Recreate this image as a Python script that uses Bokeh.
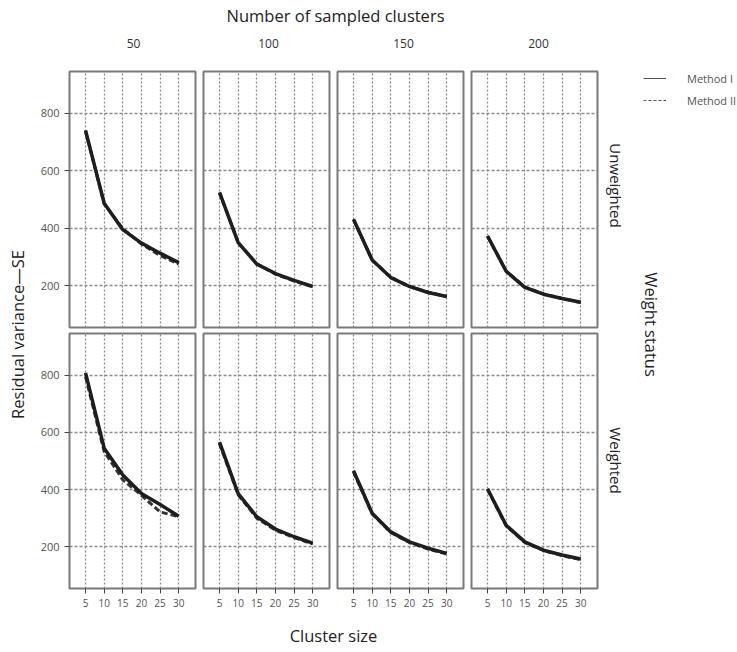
import math
from bokeh.plotting import figure
from bokeh.layouts import row, column
from bokeh.models import (Range1d, FixedTicker, Grid, Label, Legend, LegendItem,
                          ColumnDataSource)
from bokeh.embed import file_html
from bokeh.resources import INLINE

# ---------------- data ----------------
cluster_size = [5, 10, 15, 20, 25, 30]
sampled_clusters = ["50", "100", "150", "200"]
weight_status = ["Unweighted", "Weighted"]
methods = ["Method I", "Method II"]
x_ticks = [5, 10, 15, 20, 25, 30]
y_ticks = [200, 400, 600, 800]

# rows: 50, 100, 150, 200 sampled clusters
unweighted_method_i = [
    [741, 487, 395, 348, 313, 280],
    [525, 350, 275, 242, 218, 197],
    [431, 289, 228, 197, 176, 162],
    [373, 250, 194, 170, 155, 142],
]
unweighted_method_ii = [
    [738, 485, 398, 345, 305, 275],
    [523, 350, 276, 240, 216, 196],
    [430, 289, 229, 197, 177, 161],
    [372, 250, 195, 171, 155, 141],
]
weighted_method_i = [
    [808, 545, 451, 386, 348, 307],
    [566, 386, 305, 262, 235, 213],
    [466, 317, 252, 217, 195, 177],
    [403, 275, 217, 188, 171, 157],
]
weighted_method_ii = [
    [795, 533, 434, 380, 322, 305],
    [560, 382, 300, 258, 232, 210],
    [462, 315, 250, 215, 192, 175],
    [400, 273, 215, 187, 169, 155],
]

# ---------------- style / layout ----------------
FONT = "Open Sans"
TEXT = "#222222"
W, H = 737, 652
LEFT_W = 30
HEADER_H = 67
FOOTER_H = 32
FRAME_W = 126
GAP = 4
FIRST_LEFT = 39
RIGHT_W = W - LEFT_W - (FIRST_LEFT + FRAME_W + GAP) - 3 * (FRAME_W + 2 * GAP)
TOP_FRAME_H = 256
BOT_FRAME_H = 255
BOT_AXIS_H = 32
GRID_H = (4 + TOP_FRAME_H + 3) + (3 + BOT_FRAME_H + BOT_AXIS_H)
NAN = float("nan")


def style_plain(p):
    p.outline_line_color = None
    p.background_fill_color = "white"
    p.border_fill_color = "white"
    p.grid.visible = False


def make_panel(r, c, m1, m2):
    left_axis = c == 0
    bottom_axis = r == 1
    p = figure(frame_width=FRAME_W,
               frame_height=TOP_FRAME_H if r == 0 else BOT_FRAME_H,
               x_range=Range1d(0.7, 34.5), y_range=Range1d(54, 946),
               x_axis_location="below" if bottom_axis else None,
               y_axis_location="left" if left_axis else None,
               output_backend="svg", toolbar_location=None,
               min_border_left=FIRST_LEFT if left_axis else GAP,
               min_border_right=GAP,
               min_border_top=4 if r == 0 else 3,
               min_border_bottom=3 if r == 0 else BOT_AXIS_H)
    p.grid.visible = False
    p.background_fill_color = "white"
    p.border_fill_color = "white"
    p.outline_line_color = "#7a7a7a"
    p.outline_line_width = 2
    p.add_layout(Grid(dimension=0, ticker=FixedTicker(ticks=x_ticks),
                      grid_line_color="#8a8a8a", grid_line_dash="2 2",
                      grid_line_width=1.3))
    p.add_layout(Grid(dimension=1, ticker=FixedTicker(ticks=y_ticks),
                      grid_line_color="#8a8a8a", grid_line_dash="3 2",
                      grid_line_width=1.3))
    for ax in p.xaxis:
        ax.ticker = FixedTicker(ticks=x_ticks)
        ax.major_label_text_font_size = "10px"
    for ax in p.yaxis:
        ax.ticker = FixedTicker(ticks=y_ticks)
        ax.major_label_text_font_size = "11px"
    for ax in p.axis:
        ax.axis_line_color = None
        ax.major_tick_out = 5
        ax.major_tick_in = 0
        ax.major_tick_line_color = "#444444"
        ax.minor_tick_line_color = None
        ax.major_label_text_font = FONT
        ax.major_label_text_color = "#555555"
        ax.major_label_standoff = 5
    src = ColumnDataSource(dict(x=cluster_size, m1=m1, m2=m2))
    p.line("x", "m2", source=src, line_color="#333333", line_width=3,
           line_dash="6 3")
    p.line("x", "m1", source=src, line_color="#1e1e1e", line_width=3.5)
    return p


top = [make_panel(0, c, unweighted_method_i[c], unweighted_method_ii[c]) for c in range(4)]
bot = [make_panel(1, c, weighted_method_i[c], weighted_method_ii[c]) for c in range(4)]

# header
header = figure(width=W, height=HEADER_H, x_range=Range1d(0, W), y_range=Range1d(HEADER_H, 0),
                x_axis_location=None, y_axis_location=None, min_border=0,
                output_backend="svg", toolbar_location=None)
style_plain(header)
grid_center = LEFT_W + FIRST_LEFT + (4 * FRAME_W + 6 * GAP) / 2
header.add_layout(Label(x=grid_center + 2, y=15, text="Number of sampled clusters",
                        text_font=FONT, text_font_size="16.5px", text_color=TEXT,
                        text_align="center", text_baseline="middle"))
for c, lab in enumerate(sampled_clusters):
    cx = LEFT_W + FIRST_LEFT + FRAME_W / 2 + c * (FRAME_W + 2 * GAP) + 1 + c
    header.add_layout(Label(x=cx, y=43, text=lab, text_font=FONT, text_font_size="12px",
                            text_color="#333333", text_align="center", text_baseline="middle"))

# left label
left = figure(width=LEFT_W, height=GRID_H, x_range=Range1d(0, LEFT_W), y_range=Range1d(GRID_H, 0),
              x_axis_location=None, y_axis_location=None, min_border=0,
              output_backend="svg", toolbar_location=None)
style_plain(left)
left.add_layout(Label(x=17, y=267, text="Residual variance\u2014SE", angle=math.pi / 2,
                      text_font=FONT, text_font_size="16.5px", text_color=TEXT,
                      text_align="center", text_baseline="middle"))

# right labels + legend
right = figure(width=RIGHT_W, height=GRID_H, x_range=Range1d(0, RIGHT_W), y_range=Range1d(GRID_H, 0),
               x_axis_location=None, y_axis_location=None, min_border=0,
               output_backend="svg", toolbar_location=None)
style_plain(right)
right.add_layout(Label(x=14, y=185 - HEADER_H, text=weight_status[0], angle=-math.pi / 2,
                       text_font=FONT, text_font_size="15px", text_color=TEXT,
                       text_align="center", text_baseline="middle"))
right.add_layout(Label(x=14, y=460 - HEADER_H, text=weight_status[1], angle=-math.pi / 2,
                       text_font=FONT, text_font_size="15px", text_color=TEXT,
                       text_align="center", text_baseline="middle"))
right.add_layout(Label(x=50, y=324 - HEADER_H, text="Weight status", angle=-math.pi / 2,
                       text_font=FONT, text_font_size="16.5px", text_color=TEXT,
                       text_align="center", text_baseline="middle"))
r1 = right.line(x=[NAN], y=[NAN], line_color="#555555", line_width=1)
r2 = right.line(x=[NAN], y=[NAN], line_color="#555555", line_width=1, line_dash="3 2")
legend = Legend(items=[LegendItem(label=methods[0], renderers=[r1]),
                       LegendItem(label=methods[1], renderers=[r2])],
                location=(42, GRID_H - 1 - 42), orientation="vertical",
                border_line_color=None, background_fill_alpha=0,
                padding=0, margin=0, spacing=2, glyph_width=23, glyph_height=20,
                label_height=20, label_standoff=21, label_text_font=FONT,
                label_text_font_size="11px", label_text_color="#555555")
right.add_layout(legend)

# footer
footer = figure(width=W, height=FOOTER_H, x_range=Range1d(0, W), y_range=Range1d(FOOTER_H, 0),
                x_axis_location=None, y_axis_location=None, min_border=0,
                output_backend="svg", toolbar_location=None)
style_plain(footer)
footer.add_layout(Label(x=grid_center, y=15, text="Cluster size", text_font=FONT,
                        text_font_size="16.5px", text_color=TEXT,
                        text_align="center", text_baseline="middle"))

panels = column(row(*top, spacing=0), row(*bot, spacing=0), spacing=0)
layout = column(header, row(left, panels, right, spacing=0), footer, spacing=0)

open("out.html", "w").write(file_html(layout, INLINE))
